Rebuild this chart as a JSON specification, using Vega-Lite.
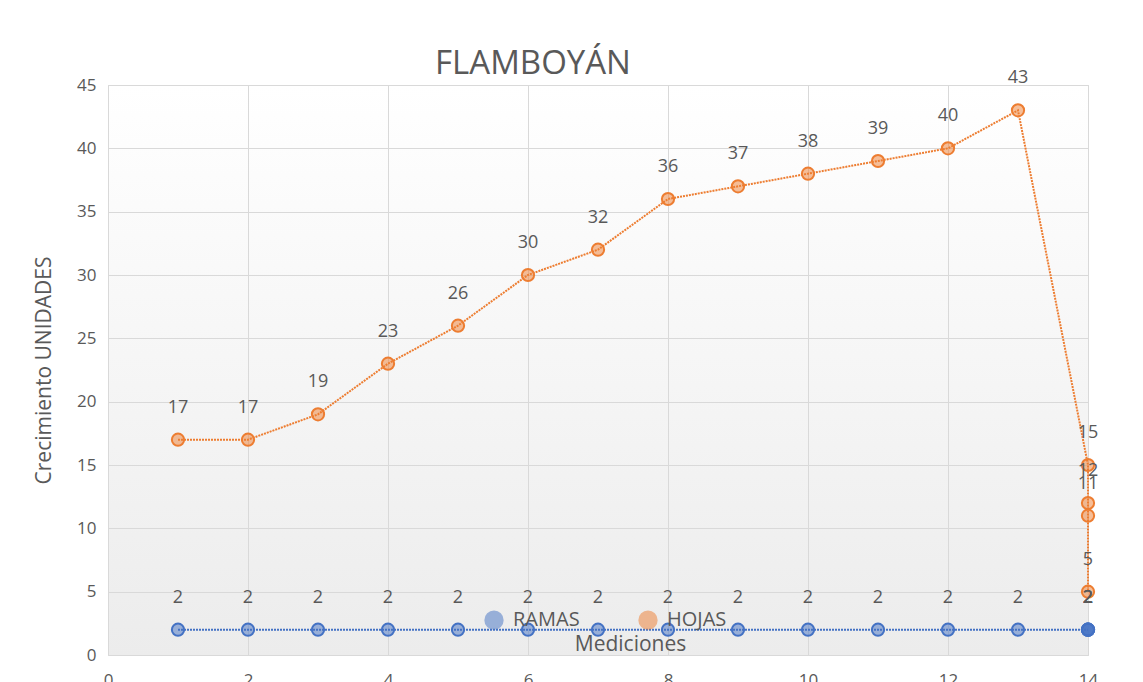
{
  "$schema": "https://vega.github.io/schema/vega-lite/v6.json",
  "autosize": {"type": "none"},
  "padding": {"left": 108, "top": 85, "right": 55, "bottom": 27},
  "width": 980,
  "height": 570,
  "background": "white",
  "title": {"text": "FLAMBOYÁN", "anchor": "middle", "dx": -65, "offset": -12, "fontSize": 33, "fontWeight": "normal", "color": "#595959", "font": "Open Sans"},
  "config": {
    "font": "Open Sans",
    "view": {"stroke": "#d9d9d9", "fill": {"gradient": "linear", "x1": 0, "y1": 0, "x2": 0, "y2": 1, "stops": [{"offset": 0, "color": "#ffffff"}, {"offset": 1, "color": "#ececec"}]}},
    "axis": {"labelFontSize": 17, "labelColor": "#595959", "titleFontSize": 21, "titleColor": "#595959", "titleFontWeight": "normal", "gridColor": "#d9d9d9", "domain": false, "ticks": false}
  },
  "data": {"values": [
    {"serie": "RAMAS", "x": 1, "y": 2, "o": 1},
    {"serie": "RAMAS", "x": 2, "y": 2, "o": 2},
    {"serie": "RAMAS", "x": 3, "y": 2, "o": 3},
    {"serie": "RAMAS", "x": 4, "y": 2, "o": 4},
    {"serie": "RAMAS", "x": 5, "y": 2, "o": 5},
    {"serie": "RAMAS", "x": 6, "y": 2, "o": 6},
    {"serie": "RAMAS", "x": 7, "y": 2, "o": 7},
    {"serie": "RAMAS", "x": 8, "y": 2, "o": 8},
    {"serie": "RAMAS", "x": 9, "y": 2, "o": 9},
    {"serie": "RAMAS", "x": 10, "y": 2, "o": 10},
    {"serie": "RAMAS", "x": 11, "y": 2, "o": 11},
    {"serie": "RAMAS", "x": 12, "y": 2, "o": 12},
    {"serie": "RAMAS", "x": 13, "y": 2, "o": 13},
    {"serie": "RAMAS", "x": 14, "y": 2, "o": 14},
    {"serie": "RAMAS", "x": 14, "y": 2, "o": 15},
    {"serie": "RAMAS", "x": 14, "y": 2, "o": 16},
    {"serie": "RAMAS", "x": 14, "y": 2, "o": 17},
    {"serie": "HOJAS", "x": 1, "y": 17, "o": 1},
    {"serie": "HOJAS", "x": 2, "y": 17, "o": 2},
    {"serie": "HOJAS", "x": 3, "y": 19, "o": 3},
    {"serie": "HOJAS", "x": 4, "y": 23, "o": 4},
    {"serie": "HOJAS", "x": 5, "y": 26, "o": 5},
    {"serie": "HOJAS", "x": 6, "y": 30, "o": 6},
    {"serie": "HOJAS", "x": 7, "y": 32, "o": 7},
    {"serie": "HOJAS", "x": 8, "y": 36, "o": 8},
    {"serie": "HOJAS", "x": 9, "y": 37, "o": 9},
    {"serie": "HOJAS", "x": 10, "y": 38, "o": 10},
    {"serie": "HOJAS", "x": 11, "y": 39, "o": 11},
    {"serie": "HOJAS", "x": 12, "y": 40, "o": 12},
    {"serie": "HOJAS", "x": 13, "y": 43, "o": 13},
    {"serie": "HOJAS", "x": 14, "y": 15, "o": 14},
    {"serie": "HOJAS", "x": 14, "y": 12, "o": 15},
    {"serie": "HOJAS", "x": 14, "y": 11, "o": 16},
    {"serie": "HOJAS", "x": 14, "y": 5, "o": 17}
  ]},
  "encoding": {
    "x": {"field": "x", "type": "quantitative", "scale": {"domain": [0, 14], "nice": false, "zero": false}, "axis": {"values": [0, 2, 4, 6, 8, 10, 12, 14], "labelPadding": 17, "title": "Mediciones", "titleX": 522, "titleY": -5, "titleBaseline": "alphabetic", "labelFlush": false, "gridColor": "#d9d9d9"}},
    "y": {"field": "y", "type": "quantitative", "scale": {"domain": [0, 45], "nice": false}, "axis": {"values": [0, 5, 10, 15, 20, 25, 30, 35, 40, 45], "labelPadding": 12, "title": "Crecimiento UNIDADES", "titlePadding": 22}},
    "color": {"field": "serie", "type": "nominal", "scale": {"domain": ["RAMAS", "HOJAS"], "range": ["#4472C4", "#ED7D31"]},
      "legend": {"orient": "none", "direction": "horizontal", "legendX": 376, "legendY": 525, "title": null, "labelFontSize": 20, "labelColor": "#595959", "symbolSize": 300, "symbolType": "circle", "symbolOpacity": 0.5, "symbolStrokeWidth": 2, "columnPadding": 55, "labelOffset": 9}}
  },
  "layer": [
    {"mark": {"type": "line", "strokeWidth": 2, "strokeDash": [2, 1]}, "encoding": {"order": {"field": "o"}, "detail": {"field": "serie"}}},
    {"mark": {"type": "point", "filled": true, "size": 150, "fillOpacity": 0.5, "strokeWidth": 2, "shape": "circle"}, "encoding": {"stroke": {"field": "serie", "type": "nominal", "scale": {"domain": ["RAMAS", "HOJAS"], "range": ["#4472C4", "#ED7D31"]}, "legend": null}}},
    {"mark": {"type": "text", "dy": -32, "fontSize": 18, "color": "#595959"}, "encoding": {"text": {"field": "y", "type": "quantitative"}, "color": {"value": "#595959"}}}
  ]
}
